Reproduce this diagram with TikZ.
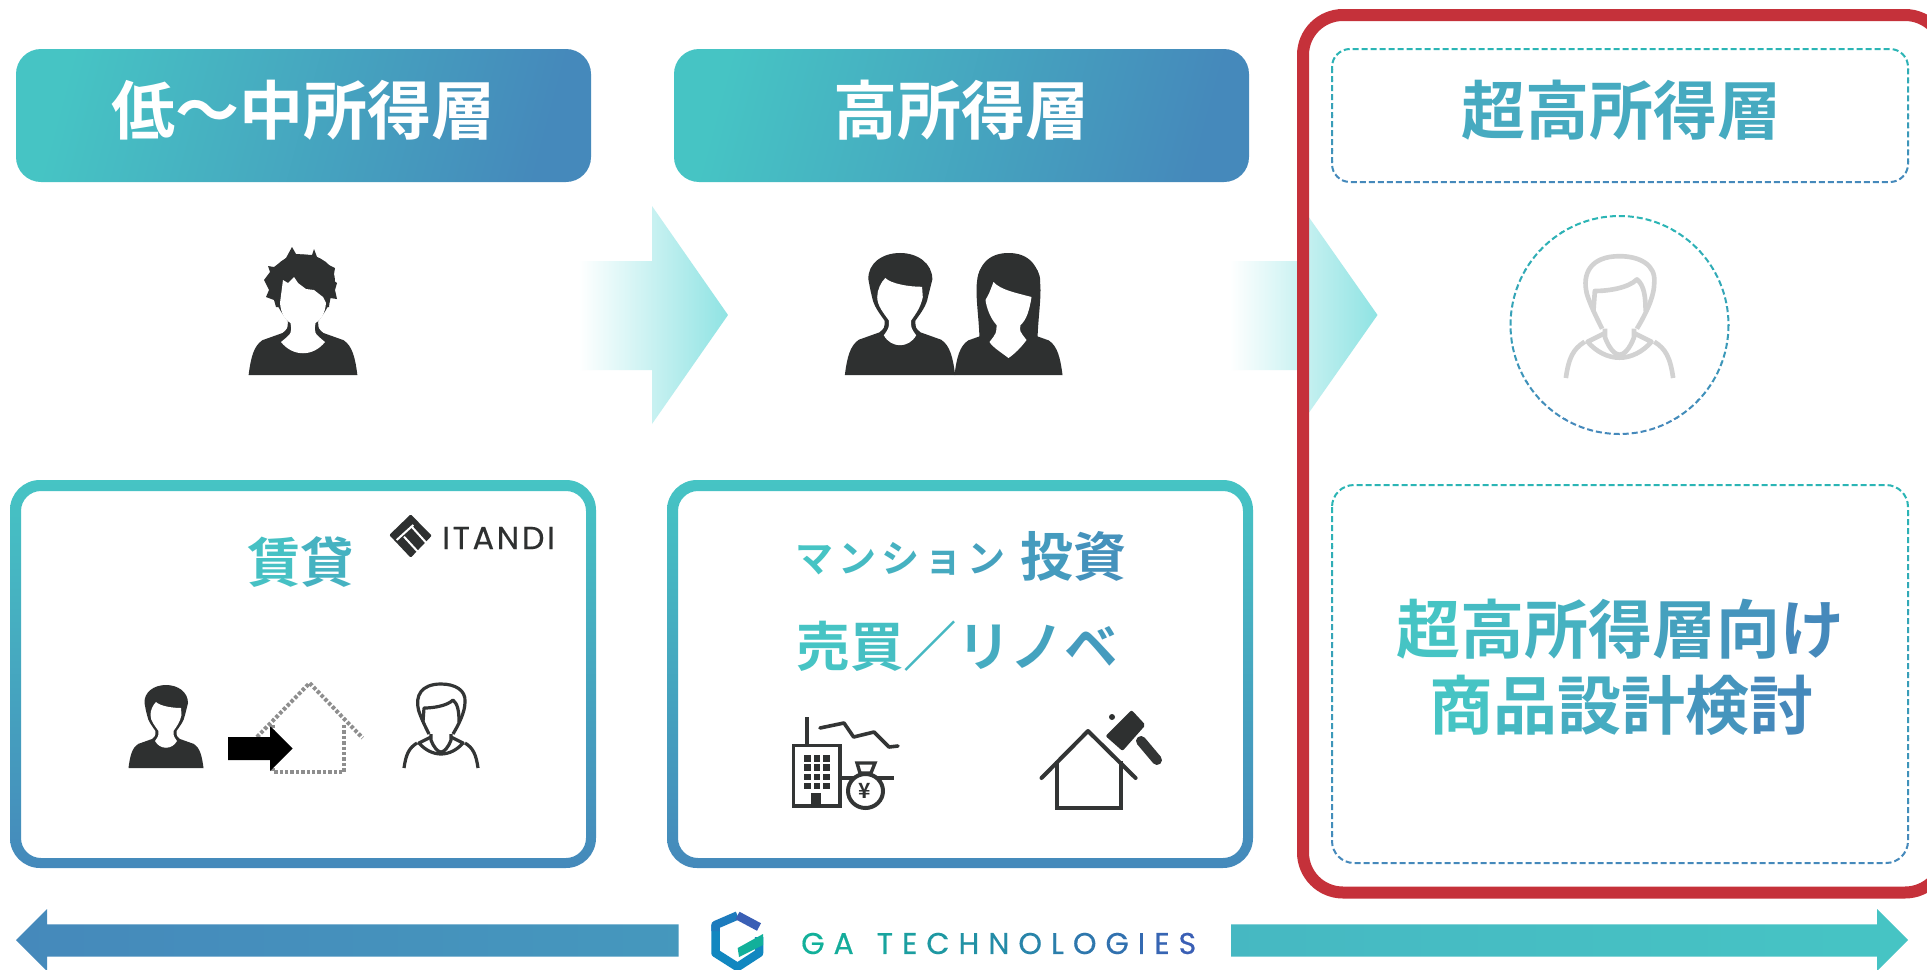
\documentclass[tikz,border=0pt]{standalone}
\usepackage{fontspec}
\usepackage{xcolor}
\newfontfamily\jpfont{Noto Sans CJK JP}[BoldFont={Noto Sans CJK JP Bold}]
\newfontfamily\logofont{Poppins}[FakeBold=0.4]
\definecolor{gradteal}{HTML}{46C4C4}
\definecolor{gradblue}{HTML}{4589BB}
\definecolor{dashteal}{HTML}{2BB5B5}
\definecolor{darkicon}{HTML}{2E3030}
\definecolor{lineicon}{HTML}{333535}
\definecolor{redframe}{HTML}{C5313A}
\definecolor{arrowtip}{HTML}{8FE3E3}
\definecolor{arrowmid}{HTML}{BFE8EC}
\definecolor{palegray}{HTML}{D2D2D2}
\definecolor{dotgray}{HTML}{8E8E8E}
\definecolor{logoteal}{HTML}{12B09A}
\definecolor{logoblue}{HTML}{1187C0}
\definecolor{logodeep}{HTML}{3A5FB5}
\newcommand{\gc}[2]{\textcolor{gradblue!#1!gradteal}{#2}}
\newcommand{\lc}[2]{\textcolor{logodeep!#1!logoteal}{#2}\kern9pt}
\newcommand{\gradstroke}[3]{%
  \foreach \k in {0,...,11}{%
    \pgfmathtruncatemacro\mix{\k*100/11}
    \begin{scope}
      \clip (1320,{#1+(#2-#1)*\k/12}) rectangle (1920,{#1+(#2-#1)*(\k+1)/12});
      \draw[dashline,draw=gradblue!\mix!dashteal] #3;
    \end{scope}}}
\newcommand{\personbase}{%
  \fill (-37.5,0) .. controls (-36,-12) and (-34,-20) .. (-28,-24) -- (-14,-29)
    .. controls (-10.5,-32) .. (-10.5,-37) .. controls (-14,-42) and (-18,-47) .. (-19,-53)
    .. controls (-20,-57) .. (-21.5,-65) .. controls (-22,-76) and (-12,-83) .. (0,-83)
    .. controls (12,-83) and (22,-76) .. (22,-65) .. controls (20,-57) .. (19,-53)
    .. controls (18,-47) and (14,-42) .. (10.5,-37) .. controls (10.5,-32) .. (14,-29)
    -- (28,-24) .. controls (34,-20) and (36,-12) .. (37.5,0) -- cycle;}
\newcommand{\faceround}{%
  \fill[white] (-10,-66) .. controls (-6,-62) and (6,-60) .. (15,-60)
    .. controls (15.5,-56) .. (15.5,-53) .. controls (14,-46) and (11,-42) .. (7.5,-37)
    .. controls (7.5,-32) .. (11,-27)
    .. controls (6,-18) and (-6,-18) .. (-11,-27) .. controls (-7.5,-32) .. (-7.5,-37)
    .. controls (-11,-42) and (-15.5,-47) .. (-15.5,-53) .. controls (-15.5,-58) and (-13,-63) .. (-10,-66) -- cycle;}
\newcommand{\outlineperson}[4]{%
  \begin{scope}[shift={(#1,#2)},scale=#3,draw=#4,line width=#3*3.2pt,line join=round]
    \draw (-12,-34) .. controls (-16,-42) and (-20,-50) .. (-22.5,-58)
      .. controls (-26,-72) and (-20,-84) .. (0,-84) .. controls (14,-84) and (25,-78) .. (24,-66)
      .. controls (24,-56) and (18,-44) .. (12,-34);
    \draw (-18,-46) -- (-17,-60) .. controls (-8,-60) and (6,-62) .. (12,-68)
      .. controls (17,-64) and (18,-56) .. (18,-46);
    \draw (-10,-34) -- (-10,-28) .. controls (-7,-20) and (-3,-16) .. (0,-16)
      .. controls (3,-16) and (7,-20) .. (10,-28) -- (10,-34);
    \draw (-37,0) .. controls (-35,-14) and (-32,-20) .. (-24,-25) (-10,-31) -- (-22,-25)
      .. controls (-16,-18) and (-8,-14) .. (0,-14) .. controls (8,-14) and (16,-18) .. (22,-25) -- (10,-31);
    \draw (37,0) .. controls (35,-14) and (32,-20) .. (24,-25);
  \end{scope}}
\tikzset{
  headbox/.style={rounded corners=25pt,minimum width=575pt,minimum height=133pt,inner sep=0pt,
    left color=gradteal,right color=gradblue,shading angle=75},
  flowarrow/.style={left color=white,middle color=arrowmid,right color=arrowtip},
  ringbox/.style={top color=gradteal,bottom color=gradblue,even odd rule},
  dashline/.style={line width=2pt,dash pattern=on 6pt off 3pt},
  tiertext/.style={inner sep=0pt,font=\jpfont\bfseries\fontsize{64}{64}\selectfont},
  boxtext/.style={inner sep=0pt,font=\jpfont\bfseries\fontsize{53.5}{53.5}\selectfont},
  iconline/.style={draw=lineicon,line width=3.6pt,line join=miter},
  dotline/.style={draw=dotgray,line width=4pt,dash pattern=on 3.4pt off 2pt}
}
\begin{document}
\begin{tikzpicture}[x=1pt,y=-1pt]
  \useasboundingbox (0,0) rectangle (1927,969);
  \fill[white] (0,0) rectangle (1927,969);

  % tier headers
  \node[headbox] (lowhead) at (303.5,115.5) {};
  \node[tiertext,text=white] (lowlabel) at (303.5,110) {低～中所得層};
  \node[headbox] (highhead) at (961.5,115.5) {};
  \node[tiertext,text=white] (highlabel) at (961.5,110) {高所得層};

  % arrows between tiers
  \path[flowarrow] (579,261) -- (652,261) -- (652,206) -- (728,315) -- (652,424) -- (652,370) -- (579,370) -- cycle;
  \path[flowarrow] (1230,261) -- (1301,261) -- (1301,206) -- (1377.5,315) -- (1301,424) -- (1301,370) -- (1230,370) -- cycle;

  % people of the tiers
  \begin{scope}[shift={(303,375)},fill=darkicon]
    \begin{scope}[scale=1.45]\personbase\end{scope}
    \fill (-39,-95) -- (-33,-103) -- (-35,-109) -- (-29,-108) -- (-17,-117) -- (-11,-128) -- (-7,-121)
      -- (9,-120) -- (11,-126) -- (14,-118) -- (26,-110) -- (32,-107) -- (30,-95) -- (34,-92)
      -- (32,-85) -- (34,-76) -- (27,-77) -- (26,-68) -- (-27,-68) -- (-29,-75) -- (-37,-78) -- (-34,-85) -- cycle;
    \fill[white] (-23,-72) -- (-20,-95) -- (-15,-92) -- (-9,-98) -- (-5,-92) -- (3,-86) -- (11,-85) -- (20,-78)
      -- (23,-72) .. controls (22,-62) and (19,-56) .. (12.5,-52) .. controls (11,-42) .. (22,-33)
      .. controls (10,-18) and (-10,-18) .. (-22,-33) .. controls (-11,-42) .. (-12.5,-52)
      .. controls (-19,-56) and (-22,-62) .. (-23,-72) -- cycle;
  \end{scope}
  \begin{scope}[shift={(900,375)},scale=1.47,fill=darkicon]
    \personbase\faceround
  \end{scope}
  \begin{scope}[shift={(1008.5,375)},fill=darkicon]
    \begin{scope}[scale=1.44]\personbase\end{scope}
    \fill (-32,-85) .. controls (-32,-70) and (-29,-50) .. (-29,-33) -- (29,-33) .. controls (29,-50) and (32,-70) .. (32,-85)
      .. controls (32,-110) and (20,-122) .. (0,-122) .. controls (-20,-122) and (-32,-110) .. (-32,-85) -- cycle;
    \fill[white] (-15,-93) .. controls (-8,-85) and (8,-82) .. (23,-78) .. controls (21,-65) and (18,-55) .. (12,-50)
      .. controls (11,-44) .. (18,-35) .. controls (13,-28) and (6,-21) .. (0,-17) .. controls (-8,-23) and (-16,-28) .. (-19,-33)
      .. controls (-12,-42) .. (-12,-50) .. controls (-19,-58) and (-22,-68) .. (-23,-75) .. controls (-20,-80) .. (-15,-93) -- cycle;
  \end{scope}

  % rental box
  \path[ringbox,rounded corners=30pt] (10,480) rectangle (596,868) [rounded corners=20pt] (21,491) rectangle (586,858);
  \node[boxtext] (rentlabel) at (300.5,562.5) {\gc{5}{賃}\gc{30}{貸}};
  \fill[darkicon,rounded corners=1pt] (410.7,514.3) -- (431.7,535.7) -- (410.7,557.7) -- (389.3,535) -- cycle;
  \draw[white,line width=2pt] (396.7,540) -- (413.3,525) (404,536.7) -- (419.3,553.3) (411.7,526.7) -- (426.7,543.3);
  \node[inner sep=0pt,text=darkicon,font=\logofont\fontsize{32}{32}\selectfont,anchor=west] (itandi) at (442,538) {I\kern2.6pt T\kern2.6pt A\kern2.6pt N\kern2.6pt D\kern2.6pt I};
  \begin{scope}[shift={(166,768)},fill=darkicon]
    \personbase\faceround
  \end{scope}
  \draw[dotline] (257,737) -- (309.6,683) -- (362.6,738);
  \draw[dotline] (344,725) -- (344,772) -- (273,772) -- (273,725);
  \fill[black] (228,737) -- (270,737) -- (270,726) -- (292.6,748.5) -- (270,771) -- (270,760) -- (228,760) -- cycle;
  \outlineperson{441}{768}{1}{lineicon}

  % investment box
  \path[ringbox,rounded corners=30pt] (667,480) rectangle (1253,868) [rounded corners=20pt] (678,491) rectangle (1243,858);
  \node[inner sep=0pt,anchor=west,font=\jpfont\bfseries\fontsize{38}{38}\selectfont] (condolabel) at (795,559) {%
    \gc{0}{マ}\kern5pt\gc{15}{ン}\kern5pt\gc{30}{シ}\kern5pt\gc{45}{ョ}\kern5pt\gc{60}{ン}};
  \node[inner sep=0pt,anchor=west,font=\jpfont\bfseries\fontsize{53}{53}\selectfont] (investlabel) at (1020,556) {\gc{70}{投}\gc{85}{資}};
  \node[boxtext] (resalelabel) at (957,646) {\gc{0}{売}\gc{8}{買}\gc{20}{／}\gc{40}{リ}\gc{55}{ノ}\gc{70}{ベ}};
  % building and money bag
  \draw[iconline] (793.5,745.5) rectangle (840,806);
  \draw[iconline] (807,717) -- (807,745);
  \draw[iconline,line cap=round,line join=round] (820,728) -- (844,723) -- (853.6,737) -- (874,732) -- (889,747) -- (898,746);
  \foreach \row in {0,1,2,3}{
    \foreach \col in {0,1,2}{
      \fill[darkicon] (804+\col*9.5,755+\row*9.3) rectangle ++(6.5,6.5);}}
  \fill[darkicon] (811,793) rectangle (821,807);
  \draw[iconline] (840,778) -- (894,778);
  \draw[iconline,line width=4pt,fill=white] (865.5,791) ellipse (17.5 and 17);
  \draw[iconline,line width=3.4pt,fill=white] (857,763) -- (875,763) -- (871,773) -- (860,773) -- cycle;
  \node[inner sep=0pt,text=darkicon,font=\jpfont\bfseries\fontsize{21}{21}\selectfont] (yenmark) at (865,791) {¥};
  % house and hammer
  \draw[iconline,line width=4pt,line cap=round,line join=round] (1041.5,778) -- (1088,731) -- (1135.6,778);
  \draw[iconline,line width=4pt] (1057,761) -- (1057,808) -- (1120.5,808) -- (1120.5,761);
  \fill[darkicon,rounded corners=2pt] (1131.6,710) -- (1145.5,725) -- (1122.5,751) -- (1105.5,736) -- cycle;
  \draw[lineicon,line width=10pt,line cap=round] (1141,741) -- (1157,760);
  \fill[darkicon] (1112,717) circle (3pt);

  % top tier, nothing there yet
  \gradstroke{46}{185}{[rounded corners=18pt] (1332,49) rectangle (1908,182)}
  \node[tiertext] (toplabel) at (1621,110) {\gc{45}{超}\gc{45}{高}\gc{45}{所}\gc{45}{得}\gc{45}{層}};
  \gradstroke{213}{437}{(1619.5,325) circle (109)}
  \outlineperson{1619.5}{378}{1.45}{palegray}
  \gradstroke{482}{866}{[rounded corners=22pt] (1332,485) rectangle (1908,863)}
  \node[tiertext] (planone) at (1620.5,629.5) {\gc{0}{超}\gc{15}{高}\gc{30}{所}\gc{45}{得}\gc{60}{層}\gc{80}{向}\gc{100}{け}};
  \node[tiertext] (plantwo) at (1621,705) {\gc{0}{商}\gc{20}{品}\gc{40}{設}\gc{60}{計}\gc{80}{検}\gc{100}{討}};

  \draw[redframe,line width=12pt,rounded corners=40pt] (1303,15) rectangle (1945,892.5);

  % bottom scale
  \path[left color=gradblue,right color=gradblue!75!gradteal] (16,940) -- (47,909) -- (47,924.3) -- (678.5,924.3) -- (678.5,956.7) -- (47,956.7) -- (47,971) -- cycle;
  \path[left color=gradteal!80!gradblue,right color=gradteal] (1908,940) -- (1877,909) -- (1877,924.3) -- (1231,924.3) -- (1231,956.7) -- (1877,956.7) -- (1877,971) -- cycle;
  \draw[logoblue,line width=8.5pt,line join=round] (715.5,925) -- (715.5,953) -- (737.5,967) -- (759,953) -- (759,937);
  \draw[logoblue!70!logodeep,line width=8.5pt,line join=round] (715.5,931) -- (715.5,925) -- (737.5,915.5);
  \draw[logodeep,line width=8.5pt,line join=round] (737.5,915.5) -- (759,927);
  \fill[logoteal] (763,934) -- (763,945) -- (739,957) -- (737.7,948) -- cycle;
  \node[inner sep=0pt,anchor=west,font=\logofont\fontsize{30}{30}\selectfont] (gatext) at (801,943.5) {%
    \lc{0}{G}\lc{5}{A}\kern14pt\lc{15}{T}\lc{22}{E}\lc{30}{C}\lc{38}{H}\lc{46}{N}\lc{54}{O}\lc{62}{L}\lc{70}{O}\lc{78}{G}\lc{86}{I}\lc{93}{E}\lc{100}{S}};
\end{tikzpicture}
\end{document}
